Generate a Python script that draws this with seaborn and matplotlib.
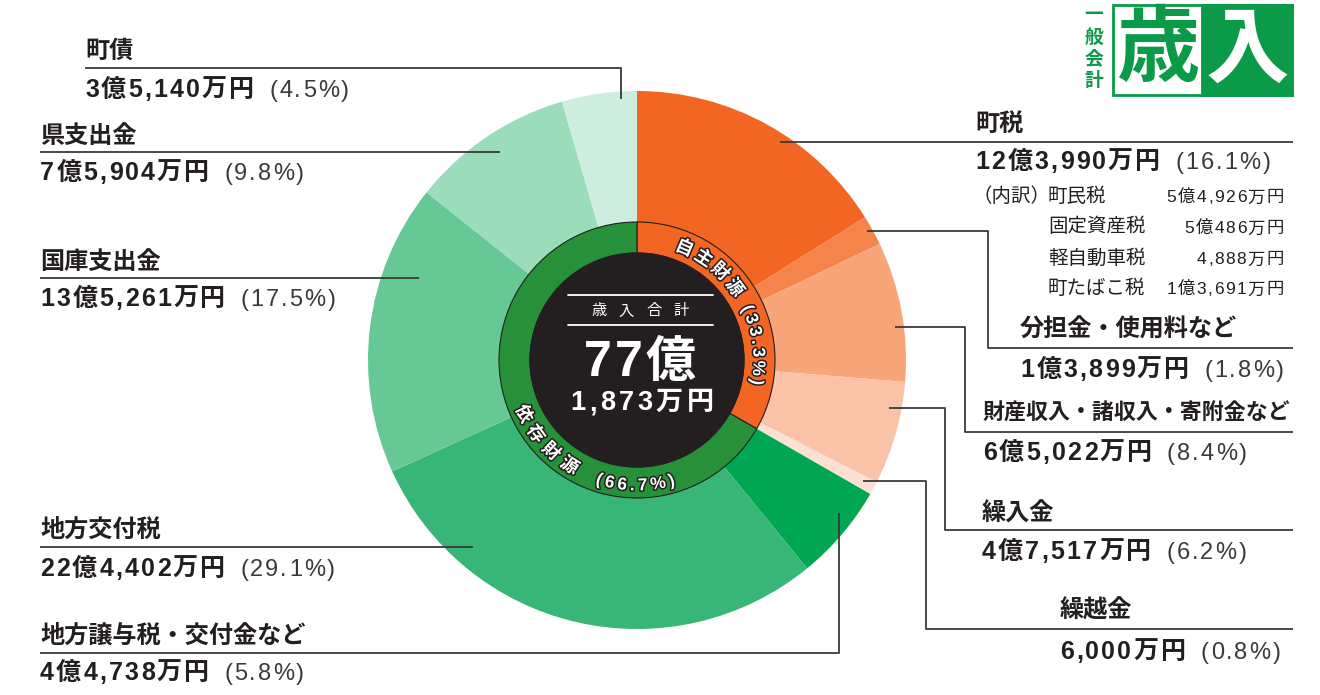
import numpy as np
import pandas as pd
import matplotlib
matplotlib.use('Agg')
import matplotlib.pyplot as plt
import matplotlib.patheffects as pe
from matplotlib.patches import Rectangle, Circle
from matplotlib.font_manager import FontProperties
import seaborn as sns

# ---------------- data ----------------
categories = ['町税', '分担金・使用料など', '財産収入・諸収入・寄附金など', '繰入金', '繰越金',
              '地方譲与税・交付金など', '地方交付税', '国庫支出金', '県支出金', '町債']
amounts = ['12億3,990万円', '1億3,899万円', '6億5,022万円', '4億7,517万円', '6,000万円',
           '4億4,738万円', '22億4,402万円', '13億5,261万円', '7億5,904万円', '3億5,140万円']
shares = [16.1, 1.8, 8.4, 6.2, 0.8, 5.8, 29.1, 17.5, 9.8, 4.5]
group_names = ['自主財源', '依存財源']
group_shares = [33.3, 66.7]
tax_items = ['町民税', '固定資産税', '軽自動車税', '町たばこ税']
tax_values = ['5億4,926万円', '5億486万円', '4,888万円', '1億3,691万円']
total_title = '歳入合計'
total_oku = '77億'
total_man = '1,873万円'

# ---------------- styles / layout ----------------
colors = ['#F26522', '#F4844A', '#F7A579', '#FAC3A7', '#FDE0D3',
          '#00A651', '#37B677', '#66C895', '#9BDCBA', '#CDEDDE']
group_colors = ['#F26522', '#279139']
DARK = '#231F20'
LINE = '#3A3A3A'
PCT_COLOR = '#3A3A3A'
LOGO_GREEN = '#0A9A48'

layout = {
    '町税': dict(tx=975, ny=124, ay=160, line=[(780, 142), (1293, 142)]),
    '分担金・使用料など': dict(tx=1020, ny=330, ay=368, line=[(867, 231), (988, 231), (988, 348), (1293, 348)]),
    '財産収入・諸収入・寄附金など': dict(tx=983, ny=413, ay=451, ns=15.8,
                             line=[(895, 327), (965, 327), (965, 432), (1293, 432)]),
    '繰入金': dict(tx=982, ny=514, ay=550, line=[(889, 408), (945, 408), (945, 530), (1293, 530)]),
    '繰越金': dict(tx=1060, ny=610, ay=650, line=[(863, 481), (926, 481), (926, 629), (1293, 629)]),
    '地方譲与税・交付金など': dict(tx=40, ny=636, ay=671, line=[(40, 653), (839, 653), (839, 513)]),
    '地方交付税': dict(tx=40, ny=530, ay=567, line=[(40, 547), (473, 547)]),
    '国庫支出金': dict(tx=40, ny=262, ay=297, line=[(40, 278), (419, 278)]),
    '県支出金': dict(tx=40, ny=136, ay=171, line=[(40, 152), (500, 152)]),
    '町債': dict(tx=85, ny=51, ay=88, line=[(85, 68), (621, 68), (621, 99)]),
}

sns.set_theme(style='white')
CJK = ['Noto Sans CJK JP', 'DejaVu Sans']
NUMFAM = ['Liberation Sans', 'Noto Sans CJK JP', 'DejaVu Sans']
plt.rcParams['font.family'] = CJK

fig = plt.figure(figsize=(13.2, 6.95), dpi=100)
ax = fig.add_axes([0, 0, 1, 1])
cx, cy = 637, 360
R_out, R_ring, R_in = 269, 138, 107

ax.pie(shares, colors=colors, startangle=-90, counterclock=True, center=(cx, cy),
       radius=R_out, wedgeprops=dict(linewidth=0))
ax.pie(group_shares, colors=group_colors, startangle=-90, counterclock=True, center=(cx, cy),
       radius=R_ring, wedgeprops=dict(width=R_ring - R_in, edgecolor=DARK, linewidth=0.8))
ax.add_patch(Circle((cx, cy), R_in, facecolor=DARK, edgecolor=DARK, lw=0.8, zorder=3))
ax.set_xlim(0, 1320)
ax.set_ylim(695, 0)
ax.set_aspect('equal')
ax.axis('off')

renderer = fig.canvas.get_renderer()


def measure(s, fp):
    return renderer.get_text_width_height_descent(s, fp, ismath=False)[0]


def tracked(x, yc, s, size, weight='normal', color=DARK, track=0.0, family=NUMFAM,
            ha='left', zorder=5, **kw):
    fp = FontProperties(family=family, weight=weight, size=size)
    prefix = np.array([measure(s[:i + 1], fp) for i in range(len(s))])
    total = prefix[-1] + track * (len(s) - 1)
    if ha == 'left':
        x0 = x
    elif ha == 'center':
        x0 = x - total / 2
    else:
        x0 = x - total
    base = yc + 0.37 * size * 100 / 72
    for i, ch in enumerate(s):
        if ch == ' ':
            continue
        ax.text(x0 + prefix[i] + i * track, base, ch, ha='right', va='baseline',
                fontproperties=fp, color=color, zorder=zorder, **kw)
    return x0 + total


# ---------------- labels ----------------
NAME_SIZE = 17.4
AMT_SIZE = 18
for cat, amt, sh in zip(categories, amounts, shares):
    L = layout[cat]
    xs = [p[0] for p in L['line']]
    ys = [p[1] for p in L['line']]
    ax.plot(xs, ys, color=LINE, lw=1.3, solid_capstyle='butt', zorder=4)
    ax.text(L['tx'], L['ny'], cat, fontsize=L.get('ns', NAME_SIZE), fontweight='bold', color=DARK,
            ha='left', va='center')
    xe = tracked(L['tx'], L['ay'], amt, AMT_SIZE, weight='bold', track=2.2)
    tracked(xe + 15, L['ay'], f'({sh:.1f}%)', AMT_SIZE - 1, weight='normal',
            color=PCT_COLOR, track=2.0)

# 町税 breakdown
ax.text(972, 196, '（内訳）', fontsize=14, color=DARK, ha='left', va='center')
row_y = [196, 227, 258, 288]
for nm, val, y in zip(tax_items, tax_values, row_y):
    ax.text(1048, y, nm, fontsize=14, color=DARK, ha='left', va='center')
    tracked(1284, y, val, 12.5, weight='normal', track=1.5, ha='right')

# ---------------- center ----------------
ax.plot([568, 713], [295, 295], color='white', lw=1.3, zorder=5)
ax.plot([568, 713], [325, 325], color='white', lw=1.3, zorder=5)
for i, ch in enumerate(total_title):
    ax.text(599 + i * 27.5, 311, ch, fontsize=11, color='white', ha='center', va='center', zorder=6)
tracked(640, 358, total_oku, 36, weight='bold', color='white', track=3, ha='center', zorder=6)
tracked(642, 400, total_man, 19.5, weight='bold', color='white', track=3.5, ha='center', zorder=6)


# ---------------- curved ring text ----------------
def arc_text(s, r, phi_start, phi_end, clockwise, size, family):
    fp = FontProperties(family=family, weight='bold', size=size)
    prefix = np.array([measure(s[:i + 1], fp) for i in range(len(s))])
    widths = np.array([measure(ch, fp) for ch in s])
    centers = prefix - widths / 2
    centers = centers - centers[0]
    span = np.radians(abs(phi_end - phi_start)) * r
    n = len(s)
    track = (span - centers[-1]) / (n - 1)
    em = size * 100 / 72
    rb = r - 0.37 * em if clockwise else r + 0.37 * em
    for i, ch in enumerate(s):
        c = centers[i] + i * track
        ang = phi_start - np.degrees(c / r) if clockwise else phi_start + np.degrees(c / r)
        x = cx + rb * np.cos(np.radians(ang))
        y = cy - rb * np.sin(np.radians(ang))
        rot = ang - 90 if clockwise else ang + 90
        ax.text(x, y, ch, fontproperties=fp, color='white', rotation=rot,
                rotation_mode='anchor', ha='center', va='baseline', zorder=7,
                path_effects=[pe.withStroke(linewidth=2.2, foreground=DARK)])


arc_text(group_names[0], 123, 67, 36.6, True, 13, CJK)
arc_text(f'({group_shares[0]:.1f}%)', 123, 25, -10.5, True, 12.5, NUMFAM)
arc_text(group_names[1], 124, 205.5, 237.4, False, 13, CJK)
arc_text(f'({group_shares[1]:.1f}%)', 124, 252.5, 286, False, 12.5, NUMFAM)

# ---------------- logo ----------------
ax.add_patch(Rectangle((1113, 5), 179, 90, facecolor='white', edgecolor=LOGO_GREEN, lw=2, zorder=5))
ax.add_patch(Rectangle((1202, 5), 90, 90, facecolor=LOGO_GREEN, edgecolor=LOGO_GREEN, lw=2, zorder=5))
ax.text(1158, 51, '歳', fontsize=60, fontweight='bold', color=LOGO_GREEN, ha='center', va='center', zorder=6)
ax.text(1247, 51, '入', fontsize=60, fontweight='bold', color='white', ha='center', va='center', zorder=6)
for i, ch in enumerate('一般会計'):
    ax.text(1094, 15 + i * 22, ch, fontsize=13.5, fontweight='bold', color=LOGO_GREEN,
            ha='center', va='center', zorder=6)

fig.savefig('out.png', dpi=100, facecolor='white')
